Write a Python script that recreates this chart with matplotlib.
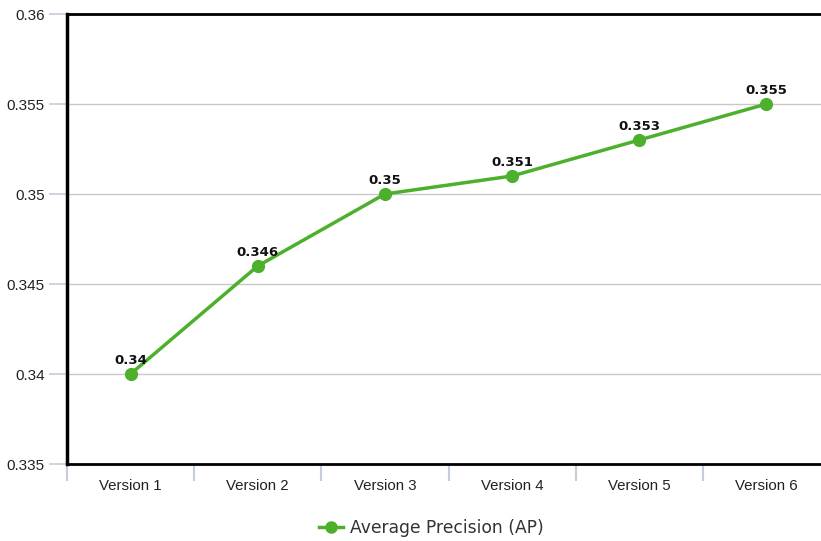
import matplotlib
matplotlib.use("Agg")
import matplotlib.pyplot as plt
from matplotlib.lines import Line2D

versions = ["Version 1", "Version 2", "Version 3", "Version 4", "Version 5", "Version 6"]
ap = [0.34, 0.346, 0.35, 0.351, 0.353, 0.355]
yticks = [0.335, 0.34, 0.345, 0.35, 0.355, 0.36]

green = "#4cb02d"
tickc = "#c5cdd8"

fig = plt.figure(figsize=(8.21, 5.41), dpi=100)
# axes run slightly past the right edge of the figure
ax = fig.add_axes([67 / 821, 77 / 541, 763 / 821, 450 / 541])

x = list(range(len(versions)))
ax.plot(x, ap, color=green, lw=2.5, marker="o", ms=8.5, zorder=3, clip_on=False)
for xi, v in zip(x, ap):
    ax.annotate(f"{v:g}", (xi, v), xytext=(0, 5), textcoords="offset points",
                ha="center", va="bottom", fontsize=9.5, fontweight="bold",
                family="DejaVu Sans", color="#111111")

ax.set_xlim(-0.5, 5.5)
ax.set_ylim(0.335, 0.36)
ax.set_yticks(yticks)
ax.set_yticklabels([f"{t:g}" for t in yticks], family="Liberation Sans", fontsize=11, color="#222222")
ax.grid(axis="y", color="#c8c8c8", lw=1)
ax.set_axisbelow(True)

ax.set_xticks(x)
ax.set_xticklabels(versions, family="Liberation Sans", fontsize=10.8, color="#222222")
ax.set_xticks([i - 0.5 for i in range(len(versions) + 1)], minor=True)
ax.tick_params(axis="x", which="major", length=0, pad=11)
ax.tick_params(axis="x", which="minor", length=12, color=tickc, width=1.5)
ax.tick_params(axis="y", length=13, color=tickc, width=1.2, pad=3)

for s in ["left", "top", "bottom"]:
    ax.spines[s].set_color("black")
ax.spines["left"].set_linewidth(2.5)
ax.spines["bottom"].set_linewidth(2)
ax.spines["top"].set_linewidth(2)
ax.spines["right"].set_visible(False)

handle = Line2D([], [], color=green, lw=2.5, marker="o", ms=8)
fig.legend([handle], ["Average Precision (AP)"], loc="center", bbox_to_anchor=(0.525, 0.024),
           frameon=False, prop={"family": "DejaVu Sans", "size": 12.3},
           handlelength=1.4, handletextpad=0.4, labelcolor="#333333")

fig.savefig("out.png", dpi=100)
